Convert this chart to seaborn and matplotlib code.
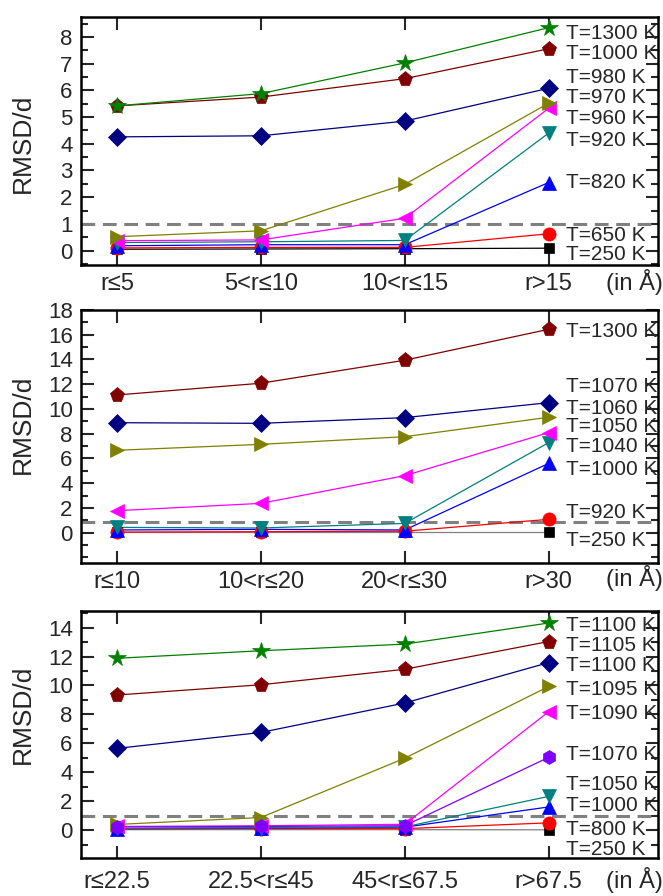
import matplotlib
matplotlib.use("Agg")
import matplotlib.pyplot as plt
from matplotlib.ticker import MultipleLocator
import pandas as pd
import seaborn as sns

sns.set_theme(style="ticks")
plt.rcParams['font.family'] = ['Liberation Sans', 'DejaVu Sans']

# ---------------- data ----------------
# top panel
cats_a = ["r≤5", "5<r≤10", "10<r≤15", "r>15"]
kinds_a = ["sq", "circ", "up", "down", "left", "right", "diam", "pent", "star"]
temps_a = ["T=250 K", "T=650 K", "T=820 K", "T=920 K", "T=960 K",
           "T=970 K", "T=980 K", "T=1000 K", "T=1300 K"]
vals_a = [
    [0.05, 0.06, 0.07, 0.09],
    [0.10, 0.12, 0.12, 0.63],
    [0.18, 0.22, 0.22, 2.55],
    [0.30, 0.33, 0.38, 4.40],
    [0.37, 0.40, 1.21, 5.33],
    [0.52, 0.74, 2.48, 5.52],
    [4.26, 4.30, 4.85, 6.08],
    [5.42, 5.75, 6.44, 7.56],
    [5.42, 5.88, 7.03, 8.35],
]
label_y_a = [-0.13, 0.58, 2.55, 4.11, 4.93, 5.73, 6.49, 7.39, 8.14]

# middle panel
cats_b = ["r≤10", "10<r≤20", "20<r≤30", "r>30"]
kinds_b = ["sq", "circ", "up", "down", "left", "right", "diam", "pent"]
temps_b = ["T=250 K", "T=920 K", "T=1000 K", "T=1040 K", "T=1050 K",
           "T=1060 K", "T=1070 K", "T=1300 K"]
vals_b = [
    [0.05, 0.05, 0.05, 0.05],
    [0.05, 0.08, 0.12, 1.08],
    [0.22, 0.27, 0.22, 5.60],
    [0.43, 0.38, 0.75, 7.28],
    [1.78, 2.37, 4.61, 8.09],
    [6.66, 7.14, 7.76, 9.33],
    [8.89, 8.84, 9.30, 10.51],
    [11.13, 12.08, 13.94, 16.44],
]
label_y_b = [-0.62, 1.67, 5.12, 6.95, 8.55, 10.05, 11.8, 16.3]

# bottom panel
cats_c = ["r≤22.5", "22.5<r≤45", "45<r≤67.5", "r>67.5"]
kinds_c = ["sq", "circ", "up", "down", "left", "right", "diam", "pent", "star", "hex"]
temps_c = ["T=250 K", "T=800 K", "T=1000 K", "T=1050 K", "T=1090 K",
           "T=1095 K", "T=1100 K", "T=1105 K", "T=1100 K", "T=1070 K"]
vals_c = [
    [0.03, 0.03, 0.03, 0.02],
    [0.06, 0.10, 0.10, 0.50],
    [0.10, 0.15, 0.20, 1.60],
    [0.12, 0.17, 0.22, 2.33],
    [0.25, 0.30, 0.40, 8.19],
    [0.39, 0.87, 4.97, 9.93],
    [5.65, 6.75, 8.79, 11.58],
    [9.34, 10.05, 11.12, 13.04],
    [11.88, 12.40, 12.86, 14.32],
    [0.22, 0.25, 0.30, 5.03],
]
label_y_c = [-1.34, 0.04, 1.70, 3.16, 8.07, 9.74, 11.35, 12.78, 14.12, 5.23]

threshold = [1.0, 0.85, 1.0]

# ---------------- styles ----------------
STYLE = {
    "sq":    dict(color="#000000", marker="s", ms=7),
    "circ":  dict(color="#ff0000", marker="o", ms=9.5),
    "up":    dict(color="#0000ff", marker="^", ms=10),
    "down":  dict(color="#008080", marker="v", ms=10),
    "left":  dict(color="#ff00ff", marker="<", ms=10),
    "right": dict(color="#808000", marker=">", ms=10),
    "diam":  dict(color="#000080", marker="D", ms=9),
    "pent":  dict(color="#800000", marker="p", ms=11),
    "star":  dict(color="#008000", marker="*", ms=13),
    "hex":   dict(color="#8000ff", marker="h", ms=10),
}

fig = plt.figure(figsize=(6.63, 8.96), dpi=100)

panels = [
    dict(cats=cats_a, kinds=kinds_a, temps=temps_a, vals=vals_a, ly=label_y_a,
         rect=[81/663, 1-265/896, 577/663, 248/896], ylim=(-0.54, 8.75),
         major=1, minor=0.5, ylab_y=0.49, sq_line="#000000", xpad=6, unit_y=-0.07),
    dict(cats=cats_b, kinds=kinds_b, temps=temps_b, vals=vals_b, ly=label_y_b,
         rect=[81/663, 1-563/896, 577/663, 253/896], ylim=(-2.45, 18.0),
         major=2, minor=1, ylab_y=0.55, sq_line="#808080", xpad=6, unit_y=-0.06),
    dict(cats=cats_c, kinds=kinds_c, temps=temps_c, vals=vals_c, ly=label_y_c,
         rect=[81/663, 1-858/896, 577/663, 247/896], ylim=(-1.93, 15.15),
         major=2, minor=1, ylab_y=0.58, sq_line="#808080", xpad=9, unit_y=-0.09),
]

xpos = [0, 1, 2, 3]
for i, p in enumerate(panels):
    ax = fig.add_axes(p["rect"])
    ax.axhline(threshold[i], color="#808080", lw=2.2, ls=(0, (4.5, 2.5)), zorder=1)
    for kind, temp, v, ly in zip(p["kinds"], p["temps"], p["vals"], p["ly"]):
        st = STYLE[kind]
        df = pd.DataFrame({"x": xpos, "y": v})
        lc = p["sq_line"] if kind == "sq" else st["color"]
        sns.lineplot(data=df, x="x", y="y", ax=ax, color=lc, lw=0.9,
                     legend=False, zorder=2)
        ax.plot(xpos, v, ls="none", marker=st["marker"], ms=st["ms"],
                color=st["color"], mec=st["color"], mew=0.5, zorder=3)
        ax.text(3.12, ly, temp, fontsize=15, va="center", ha="left", zorder=4)

    ax.set_xlim(-0.25, 3.76)
    ax.set_ylim(*p["ylim"])
    ax.set_xticks(xpos)
    ax.set_xticklabels(p["cats"], fontsize=17)
    ax.yaxis.set_major_locator(MultipleLocator(p["major"]))
    ax.yaxis.set_minor_locator(MultipleLocator(p["minor"]))
    yt = [t for t in ax.get_yticks() if 0 <= t <= p["ylim"][1] + 1e-9]
    ax.set_yticks(yt)
    ax.set_yticklabels([f"{int(t)}" for t in yt], fontsize=16)
    ax.tick_params(axis="y", which="major", direction="in", length=9, width=1.5,
                   left=True, right=True, pad=6)
    ax.tick_params(axis="y", which="minor", direction="in", length=5, width=1.5,
                   left=True, right=True)
    ax.tick_params(axis="x", which="major", direction="in", length=9, width=1.5,
                   top=True, bottom=True, pad=p["xpad"])
    for s in ax.spines.values():
        s.set_linewidth(1.8)
        s.set_color("black")
    ax.set_xlabel("")
    ax.set_ylabel("RMSD/d", fontsize=19)
    ax.yaxis.set_label_coords(-0.08, p["ylab_y"])
    ax.text(0.91, p["unit_y"], "(in Å)", transform=ax.transAxes,
            fontsize=17, va="center", ha="left")

fig.savefig("out.png", dpi=100)
